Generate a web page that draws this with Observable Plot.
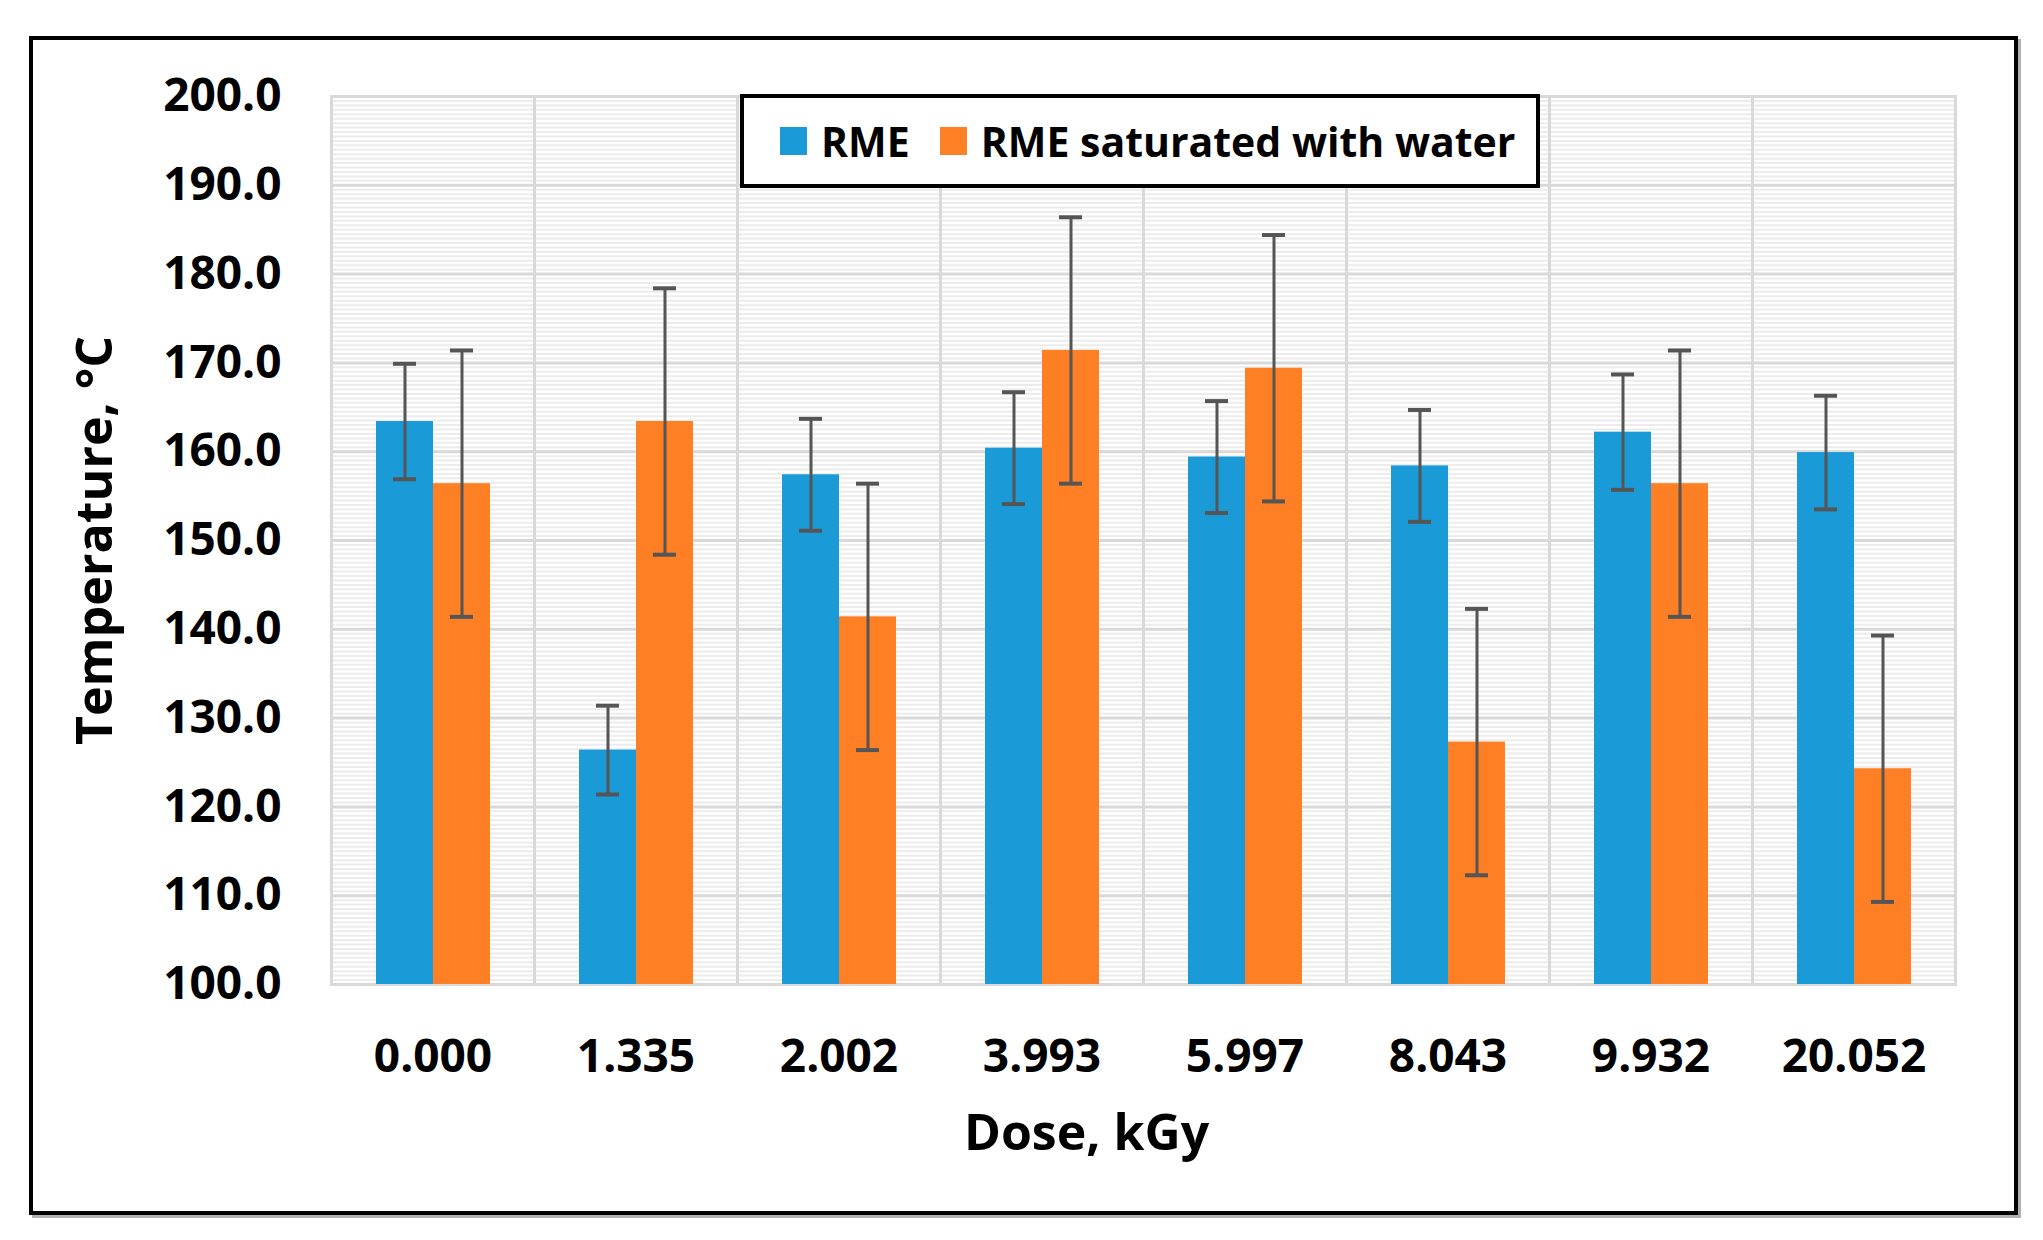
<!DOCTYPE html>
<html>
<head>
<meta charset="utf-8">
<script src="https://cdn.jsdelivr.net/npm/d3@7"></script>
<script src="https://cdn.jsdelivr.net/npm/@observablehq/plot@0.6"></script>
<style>
  html, body { margin: 0; padding: 0; background: #fff; }
  #wrap { position: relative; width: 2043px; height: 1240px; font-family: "Open Sans", sans-serif; font-weight: 700; }
  #outer { position: absolute; left: 29px; top: 36px; width: 1989px; height: 1179px; border: 4px solid #000; box-sizing: border-box; box-shadow: 3px 3px 0 #b0b0b0; pointer-events: none; }
  #legend { position: absolute; left: 740px; top: 94px; width: 800px; height: 94px; border: 4px solid #000; box-sizing: border-box; background: #fff; display: flex; align-items: center; padding-left: 36px; font-size: 41px; color: #000; }
  .sw { width: 27px; height: 28px; display: inline-block; margin-right: 14px; }
  .item { display: flex; align-items: center; margin-right: 30px; white-space: nowrap; }
</style>
</head>
<body>
<div id="wrap">
  <div id="chart"></div>
  <div id="legend"></div>
  <div id="outer"></div>
</div>
<script>
const doses = ["0.000", "1.335", "2.002", "3.993", "5.997", "8.043", "9.932", "20.052"];
const seriesNames = ["RME", "RME saturated with water"];
const seriesColors = ["#1a9bd7", "#fe7f24"];
const rmeValues = [163.4, 126.4, 157.4, 160.4, 159.4, 158.4, 162.2, 159.9];
const rmeErrors = [6.5, 5.0, 6.3, 6.3, 6.3, 6.3, 6.5, 6.4];
const waterValues = [156.4, 163.4, 141.4, 171.4, 169.4, 127.3, 156.4, 124.3];
const waterErrors = [15, 15, 15, 15, 15, 15, 15, 15];
const yTicks = [100, 110, 120, 130, 140, 150, 160, 170, 180, 190, 200];
const yTitle = "Temperature, °C";
const xTitle = "Dose, kGy";

const yMin = yTicks[0], yMax = yTicks[yTicks.length - 1];
const minorTicks = d3.range(yMin, yMax, 0.5);

const rows = [];
doses.forEach((dose, i) => {
  rows.push({dose, series: seriesNames[0], value: rmeValues[i], lo: rmeValues[i] - rmeErrors[i], hi: rmeValues[i] + rmeErrors[i]});
  rows.push({dose, series: seriesNames[1], value: waterValues[i], lo: waterValues[i] - waterErrors[i], hi: waterValues[i] + waterErrors[i]});
});

const chart = Plot.plot({
  width: 2043,
  height: 1240,
  marginLeft: 330,
  marginRight: 88,
  marginTop: 96,
  marginBottom: 256,
  style: {fontFamily: "Open Sans, sans-serif", fontWeight: 700, color: "#000", background: "transparent"},
  fx: {domain: doses, padding: 0, label: null},
  x: {domain: seriesNames, paddingInner: 0, paddingOuter: 0.78, axis: null},
  y: {domain: [yMin, yMax], axis: null},
  color: {domain: seriesNames, range: seriesColors},
  marks: [
    Plot.gridY(minorTicks, {stroke: "#ececec", strokeWidth: 2, strokeOpacity: 1}),
    Plot.gridY(yTicks, {stroke: "#d9d9d9", strokeWidth: 3, strokeOpacity: 1}),
    Plot.frame({stroke: "#d9d9d9", strokeWidth: 3}),
    Plot.barY(rows, {fx: "dose", x: "series", y1: () => yMin, y2: "value", fill: "series"}),
    Plot.ruleX(rows, {fx: "dose", x: "series", y1: "lo", y2: "hi", stroke: "#555", strokeWidth: 3}),
    Plot.tickY(rows, {fx: "dose", x: "series", y: "lo", stroke: "#555", strokeWidth: 4, insetLeft: 17, insetRight: 17}),
    Plot.tickY(rows, {fx: "dose", x: "series", y: "hi", stroke: "#555", strokeWidth: 4, insetLeft: 17, insetRight: 17}),
    Plot.axisY(yTicks, {tickSize: 0, tickPadding: 50, tickFormat: d => d.toFixed(1), fontSize: 46, label: null}),
    Plot.axisFx({anchor: "bottom", tickSize: 0, tickPadding: 55, fontSize: 46, label: null}),
    Plot.text([yTitle], {facet: "super", frameAnchor: "left", textAnchor: "middle", dx: -236, rotate: -90, fontSize: 50, fontWeight: 700, fill: "#000"}),
    Plot.text([xTitle], {facet: "super", frameAnchor: "bottom", dx: -57, dy: 165, fontSize: 50, fontWeight: 700, fill: "#000"})
  ]
});
document.getElementById("chart").appendChild(chart);

const legend = document.getElementById("legend");
seriesNames.forEach((name, i) => {
  const item = document.createElement("div");
  item.className = "item";
  const sw = document.createElement("span");
  sw.className = "sw";
  sw.style.background = seriesColors[i];
  item.appendChild(sw);
  item.appendChild(document.createTextNode(name));
  legend.appendChild(item);
});
</script>
</body>
</html>
